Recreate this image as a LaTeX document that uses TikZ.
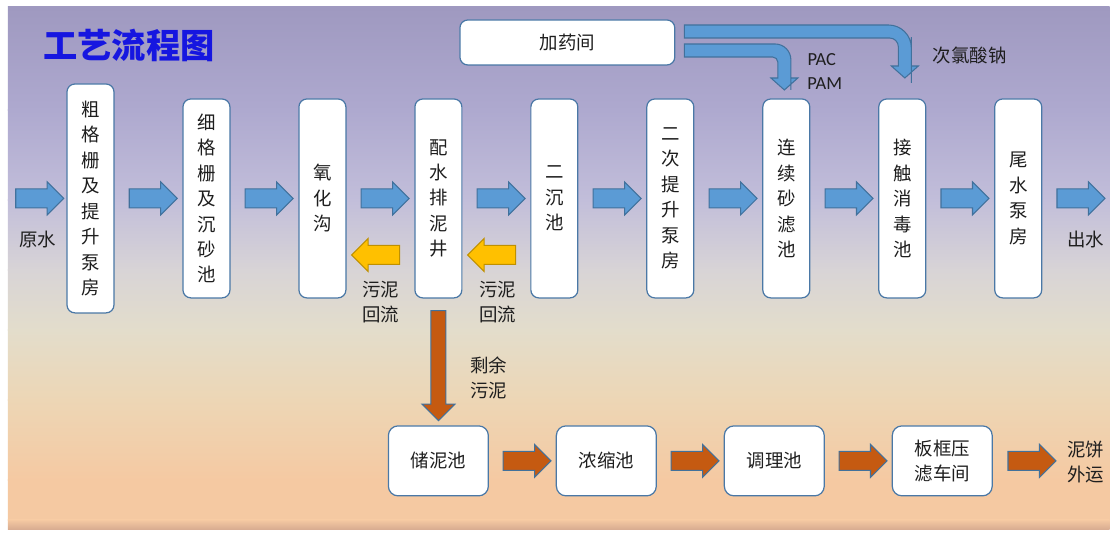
\documentclass[tikz,border=0pt]{standalone}
\usepackage{fontspec}
\setmainfont{Noto Sans CJK SC}
\newfontfamily\latinfont{Carlito}
\usetikzlibrary{shapes.arrows,calc}

\definecolor{bgA}{HTML}{9F99C0}
\definecolor{bgB}{HTML}{AEA9CF}
\definecolor{bgC}{HTML}{C2BEDA}
\definecolor{bgD}{HTML}{D8D4D6}
\definecolor{bgE}{HTML}{E3DDCB}
\definecolor{bgF}{HTML}{EDD6B5}
\definecolor{bgG}{HTML}{F5C9A2}
\definecolor{bgH}{HTML}{D6AA90}
\definecolor{flowblue}{HTML}{5B9BD5}
\definecolor{arrline}{HTML}{41719C}
\definecolor{boxline}{HTML}{4A78A6}
\definecolor{retyellow}{HTML}{FFC000}
\definecolor{retline}{HTML}{BF9000}
\definecolor{sludgebrown}{HTML}{C55A11}
\definecolor{titleblue}{HTML}{1616E0}
\definecolor{txt}{HTML}{1E1E1E}

\begin{document}
\begin{tikzpicture}[x=0.02cm,y=-0.02cm,
  every node/.style={text=txt,font=\fontsize{10.5}{14.5}\selectfont},
  unit/.style={draw=boxline,line width=0.7pt,fill=white,rounded corners=4.5pt,
    minimum width=0.94cm,minimum height=3.98cm,align=center,inner sep=0pt},
  sludgebox/.style={unit,minimum width=2cm,minimum height=1.4cm,rounded corners=5.5pt},
  flowarr/.style={single arrow,draw=arrline,fill=flowblue,line width=0.6pt,inner sep=0.18cm,
    minimum height=0.96cm,single arrow head extend=0.14cm},
  retarr/.style={flowarr,draw=retline,fill=retyellow,shape border rotate=180},
  sludgearr/.style={flowarr,fill=sludgebrown},
  chemarr/.style={draw=arrline,fill=flowblue,line width=0.6pt},
  note/.style={align=center}]

%%Background
\fill[white] (0,0) rectangle (1110,533);
\shade[top color=bgA,bottom color=bgB] (8,7) rectangle (1110,111);
\shade[top color=bgB,bottom color=bgC] (8,110) rectangle (1110,201);
\shade[top color=bgC,bottom color=bgD] (8,200) rectangle (1110,271);
\shade[top color=bgD,bottom color=bgE] (8,270) rectangle (1110,331);
\shade[top color=bgE,bottom color=bgF] (8,330) rectangle (1110,401);
\shade[top color=bgF,bottom color=bgG] (8,400) rectangle (1110,481);
\shade[top color=bgG,bottom color=bgG] (8,480) rectangle (1110,521);
\shade[top color=bgG,bottom color=bgH] (8,520) rectangle (1110,530);

%%Title
\node[text=titleblue,font=\fontsize{19.5}{22}\selectfont\bfseries] (title) at (129,45) {工艺流程图};

%%Main line
\node[unit,minimum height=4.58cm] (b1) at (90.5,198.5) {粗\\格\\栅\\及\\提\\升\\泵\\房};
\node[unit] (b2) at (206.5,198.5) {细\\格\\栅\\及\\沉\\砂\\池};
\node[unit] (b3) at (322.5,198.5) {氧\\化\\沟};
\node[unit] (b4) at (438.5,198.5) {配\\水\\排\\泥\\井};
\node[unit] (b5) at (554.5,198.5) {二\\沉\\池};
\node[unit] (b6) at (670.5,198.5) {二\\次\\提\\升\\泵\\房};
\node[unit] (b7) at (786.5,198.5) {连\\续\\砂\\滤\\池};
\node[unit] (b8) at (902.5,198.5) {接\\触\\消\\毒\\池};
\node[unit] (b9) at (1018.5,198.5) {尾\\水\\泵\\房};

\node[flowarr] (inflow) at (35,198.5) {};
\node (inlabel) at (38,240) {原水};
\path (b1) -- node[flowarr]{} (b2);
\path (b2) -- node[flowarr]{} (b3);
\path (b3) -- node[flowarr]{} (b4);
\path (b4) -- node[flowarr]{} (b5);
\path (b5) -- node[flowarr]{} (b6);
\path (b6) -- node[flowarr]{} (b7);
\path (b7) -- node[flowarr]{} (b8);
\path (b8) -- node[flowarr]{} (b9);
\node[flowarr] (outflow) at (1076.5,198.5) {};
\node (outlabel) at (1086,240) {出水};

%%Sludge return
\path ($(b4.west)+(0,56.5)$) -- node[retarr]{} ($(b3.east)+(0,56.5)$);
\path ($(b5.west)+(0,56.5)$) -- node[retarr]{} ($(b4.east)+(0,56.5)$);
\node[note] (ret1) at (381,302) {污泥\\回流};
\node[note] (ret2) at (498,302) {污泥\\回流};

%%Dosing
\node[unit,minimum width=4.3cm,minimum height=0.9cm] (dosing) at (567.5,42.5) {加药间};
\draw[chemarr] ($(dosing.east)+(9,-17.5)$) [rounded corners=13pt] -- ++(227,0) -- ++(0,35)
  [sharp corners] -- ++(0,6) -- ++(7,0) -- ++(-13.5,12) -- ++(-13.5,-12) -- ++(7,0)
  -- ++(0,-14) [rounded corners=5pt] -- ++(0,-14) -- ++(-107,0) [sharp corners] -- ++(-107,0) -- cycle;
\draw[chemarr] ($(dosing.east)+(9,1.5)$) [rounded corners=9pt] -- ++(106.5,0) -- ++(0,30)
  [sharp corners] -- ++(0,4) -- ++(7,0) -- ++(-13.5,12) -- ++(-13.5,-12) -- ++(7,0)
  -- ++(0,-10.5) [rounded corners=3pt] -- ++(0,-10.5) -- ++(-46.75,0) [sharp corners] -- ++(-46.75,0) -- cycle;
\node[font=\latinfont\fontsize{10.5}{12}\selectfont] (pac) at (822,60) {PAC};
\node[font=\latinfont\fontsize{10.5}{12}\selectfont] (pam) at (825,84) {PAM};
\node (naclo) at (970,56) {次氯酸钠};

%%Sludge line
\node[sludgebox] (s1) at (438.5,461) {储泥池};
\node[sludgebox] (s2) at (606.5,461) {浓缩池};
\node[sludgebox] (s3) at (774.5,461) {调理池};
\node[sludgebox] (s4) at (942.5,461) {板框压\\滤车间};
\path (b4) -- node[sludgearr,shape border rotate=270,inner sep=0.14cm,minimum height=2.2cm,single arrow head extend=0.18cm]{} (s1);
\node[note] (excess) at (489,378) {剩余\\污泥};
\path (s1) -- node[sludgearr]{} (s2);
\path (s2) -- node[sludgearr]{} (s3);
\path (s3) -- node[sludgearr]{} (s4);
\node[sludgearr] (cake) at (1027.5,461) {};
\node[note] (cakelabel) at (1086,462) {泥饼\\外运};

\end{tikzpicture}
\end{document}
